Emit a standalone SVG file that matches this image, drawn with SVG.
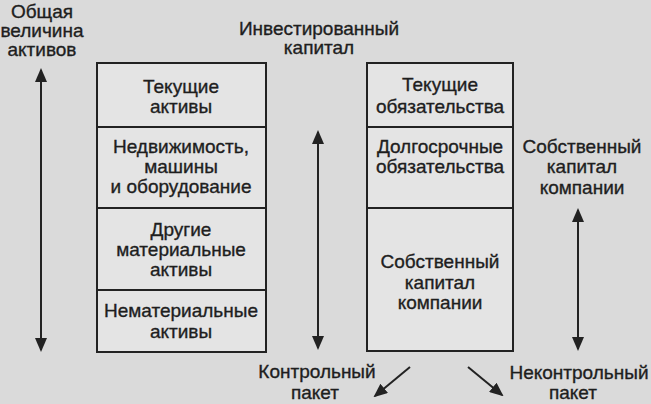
<svg xmlns="http://www.w3.org/2000/svg" width="651" height="404" viewBox="0 0 651 404">
<style>
text{font-family:"Liberation Sans",Arial,sans-serif;font-size:19px;fill:#1e1e1e;stroke:#1e1e1e;stroke-width:0.35;text-anchor:middle}
.box{fill:#e4e4e4;stroke:#222;stroke-width:2}
.div{stroke:#222;stroke-width:2}
.con{stroke:#222;stroke-width:2;fill:none}
</style>
<defs>
<marker id="ah2" markerWidth="14" markerHeight="12" refX="12" refY="6" orient="auto-start-reverse" markerUnits="userSpaceOnUse" viewBox="0 0 14 12">
<path d="M0,0 L14,6 L0,12 z" fill="#222"/>
</marker>
</defs>
<rect width="651" height="404" fill="#dadada"/>
<g id="label-total-assets">
<text x="42" y="18">Общая</text>
<text x="42" y="37">величина</text>
<text x="42" y="56">активов</text>
</g>
<g id="label-invested-capital">
<text x="319" y="35">Инвестированный</text>
<text x="319" y="54">капитал</text>
</g>
<g id="assets-box">
<rect class="box" x="97" y="63" width="169" height="289"/>
<line class="div" x1="97" y1="127" x2="266" y2="127"/>
<line class="div" x1="97" y1="208" x2="266" y2="208"/>
<line class="div" x1="97" y1="290" x2="266" y2="290"/>
</g>
<g id="current-assets">
<text x="181" y="93">Текущие</text>
<text x="181" y="113">активы</text>
</g>
<g id="property">
<text x="181" y="153">Недвижимость,</text>
<text x="181" y="173">машины</text>
<text x="181" y="193">и оборудование</text>
</g>
<g id="other-tangible">
<text x="181" y="236">Другие</text>
<text x="181" y="256">материальные</text>
<text x="181" y="276">активы</text>
</g>
<g id="intangible">
<text x="181" y="317">Нематериальные</text>
<text x="181" y="338">активы</text>
</g>
<g id="liabilities-box">
<rect class="box" x="367" y="63" width="146" height="288"/>
<line class="div" x1="367" y1="127" x2="513" y2="127"/>
<line class="div" x1="367" y1="208" x2="513" y2="208"/>
</g>
<g id="current-liabilities">
<text x="440" y="91">Текущие</text>
<text x="440" y="113">обязательства</text>
</g>
<g id="long-term">
<text x="440" y="153">Долгосрочные</text>
<text x="440" y="173">обязательства</text>
</g>
<g id="equity">
<text x="440" y="268">Собственный</text>
<text x="440" y="289">капитал</text>
<text x="440" y="309">компании</text>
</g>
<g id="label-equity">
<text x="582" y="153">Собственный</text>
<text x="582" y="173">капитал</text>
<text x="582" y="194">компании</text>
</g>
<g id="label-controlling">
<text x="317" y="378">Контрольный</text>
<text x="315" y="399">пакет</text>
</g>
<g id="label-noncontrolling">
<text x="579" y="379">Неконтрольный</text>
<text x="573" y="399">пакет</text>
</g>
<g id="connectors">
<line class="con" x1="41" y1="70" x2="41" y2="350" marker-start="url(#ah2)" marker-end="url(#ah2)"/>
<line class="con" x1="318" y1="132" x2="318" y2="348" marker-start="url(#ah2)" marker-end="url(#ah2)"/>
<line class="con" x1="578" y1="210" x2="578" y2="349" marker-start="url(#ah2)" marker-end="url(#ah2)"/>
<line class="con" x1="410" y1="367" x2="375" y2="396" marker-end="url(#ah2)"/>
<line class="con" x1="468" y1="367" x2="502" y2="395" marker-end="url(#ah2)"/>
</g>
</svg>
